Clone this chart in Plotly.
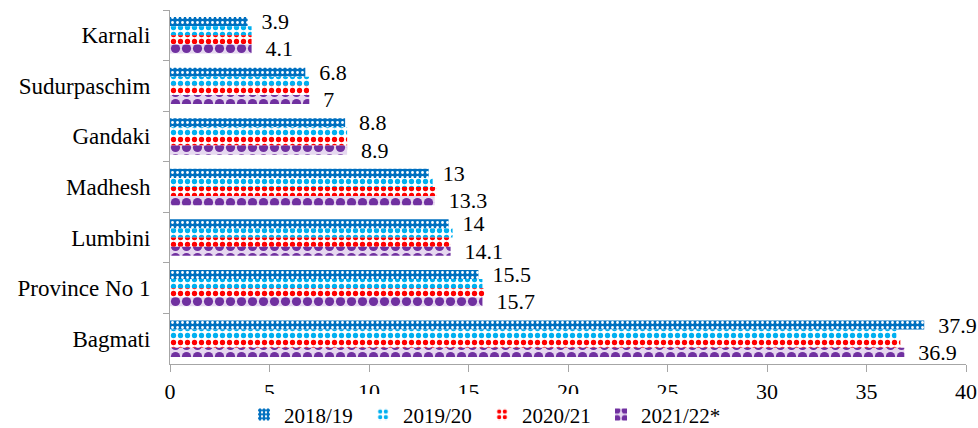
import plotly.graph_objects as go

# Provinces, listed top to bottom
provinces = ["Karnali", "Sudurpaschim", "Gandaki", "Madhesh", "Lumbini", "Province No 1", "Bagmati"]

# Share by fiscal year
fy_2018_19 = [3.9, 6.8, 8.8, 13.0, 14.0, 15.5, 37.9]
fy_2019_20 = [4.1, 7.0, 8.9, 13.2, 14.2, 15.7, 36.5]
fy_2020_21 = [4.1, 7.0, 8.9, 13.4, 14.1, 15.8, 36.7]
fy_2021_22 = [4.1, 7.0, 8.9, 13.3, 14.1, 15.7, 36.9]

series_names = ["2018/19", "2019/20", "2020/21", "2021/22*"]
FONT = "Liberation Serif"
LABEL_PAD = "\u00a0\u00a0"

styles = [
    dict(shape=".", bgcolor="#0070C0", fgcolor="#FFFFFF", size=5, solidity=0.25),
    dict(shape=".", bgcolor="#FFFFFF", fgcolor="#00B0F0", size=7, solidity=0.45),
    dict(shape=".", bgcolor="#FFFFFF", fgcolor="#FF0000", size=7, solidity=0.45),
    dict(shape=".", bgcolor="#E6D8F0", fgcolor="#7030A0", size=11, solidity=0.55),
]
colors = ["#0070C0", "#00B0F0", "#FF0000", "#7030A0"]
labelled = [True, False, False, True]

fig = go.Figure()
for name, vals, st, col, lab in zip(series_names, [fy_2018_19, fy_2019_20, fy_2020_21, fy_2021_22],
                                     styles, colors, labelled):
    fig.add_trace(go.Bar(
        name=name,
        y=provinces,
        x=vals,
        orientation="h",
        marker=dict(color=col, line=dict(width=0), pattern=dict(fillmode="replace", **st)),
        text=[f"{v:g}" for v in vals] if lab else None,
        texttemplate=(LABEL_PAD + "%{text}") if lab else None,
        textposition="outside" if lab else "none",
        constraintext="none",
        cliponaxis=False,
        textfont=dict(family=FONT, size=22, color="#000000"),
    ))

fig.update_layout(
    width=978,
    height=428,
    margin=dict(l=170, r=12, t=10, b=64, autoexpand=False),
    paper_bgcolor="#FFFFFF",
    plot_bgcolor="#FFFFFF",
    barmode="group",
    bargap=0.28,
    bargroupgap=0,
    font=dict(family=FONT, size=23, color="#000000"),
    showlegend=True,
    legend=dict(
        orientation="h",
        xref="container", x=0.2495, xanchor="left",
        yref="container", y=0.031, yanchor="middle",
        font=dict(family=FONT, size=21, color="#000000"),
        itemwidth=30,
        entrywidth=74,
        tracegroupgap=0,
    ),
    xaxis=dict(
        range=[0, 40],
        dtick=5,
        showgrid=False,
        zeroline=False,
        showline=True,
        linecolor="#A6A6A6",
        linewidth=1,
        ticks="outside",
        ticklen=7,
        tickcolor="#A6A6A6",
        ticklabelstandoff=1,
        automargin=False,
        tickfont=dict(family=FONT, size=22, color="#000000"),
    ),
    yaxis=dict(
        autorange="reversed",
        showgrid=False,
        showline=True,
        linecolor="#A6A6A6",
        linewidth=1,
        ticks="outside",
        tickson="boundaries",
        ticklen=6,
        tickcolor="#A6A6A6",
        ticklabelstandoff=14,
        automargin=False,
        tickfont=dict(family=FONT, size=23, color="#000000"),
    ),
)

fig.write_html("out.html")
